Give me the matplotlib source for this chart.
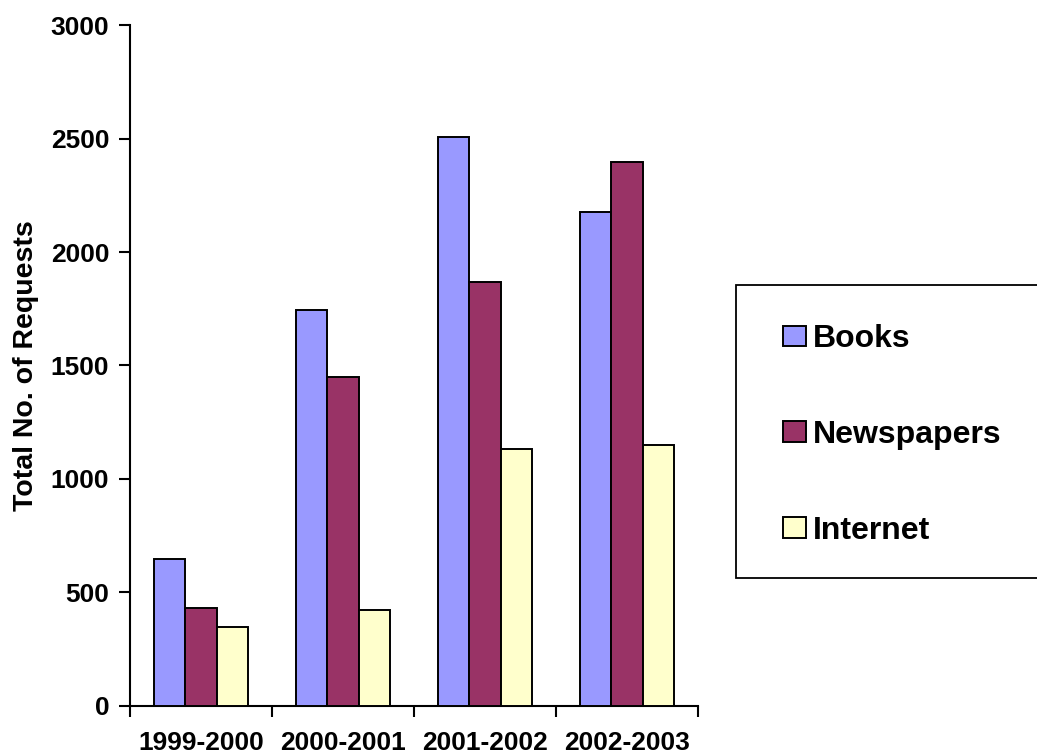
import matplotlib
matplotlib.use("Agg")
import matplotlib.pyplot as plt
from matplotlib.patches import Rectangle
import numpy as np

plt.rcParams['font.family'] = ['Liberation Sans', 'DejaVu Sans']
plt.rcParams['font.weight'] = 'bold'

years = ['1999-2000', '2000-2001', '2001-2002', '2002-2003']
books = [645, 1746, 2508, 2178]
newspapers = [432, 1450, 1866, 2398]
internet = [345, 424, 1133, 1150]

series = [('Books', books, '#9999FF'),
          ('Newspapers', newspapers, '#993366'),
          ('Internet', internet, '#FFFFCC')]

fig = plt.figure(figsize=(10.37, 7.55), dpi=100)
ax = fig.add_axes([0.1254, 0.0653, 0.5477, 0.9012])

x = np.arange(len(years))
w = 0.22
for i, (name, vals, col) in enumerate(series):
  ax.bar(x + (i - 1) * w, vals, width=w, color=col, edgecolor='black',
         linewidth=1.4, label=name, zorder=3)

ax.set_xlim(-0.5, len(years) - 0.5)
ax.set_ylim(0, 3000)
ax.set_yticks(np.arange(0, 3001, 500))

# category labels at centres, tick marks at boundaries
ax.set_xticks(x)
ax.set_xticklabels(years, fontsize=19, fontweight='bold')
ax.set_xticks(np.arange(-0.5, len(years)), minor=True)
ax.tick_params(axis='x', which='major', length=0, pad=18)
ax.tick_params(axis='x', which='minor', length=8, width=1.5, direction='out')
ax.tick_params(axis='y', length=8, width=1.5, direction='out', pad=7, labelsize=19)
for lbl in ax.get_yticklabels():
  lbl.set_fontweight('bold')

for side in ['top', 'right']:
  ax.spines[side].set_visible(False)
for side in ['left', 'bottom']:
  ax.spines[side].set_linewidth(1.5)

ax.set_ylabel('Total No. of Requests', fontsize=20.5, fontweight='bold', labelpad=8)

# legend box running off the right edge
box = Rectangle((736 / 1037, (755 - 578) / 755), 0.4, (578 - 285) / 755,
                transform=fig.transFigure, facecolor='white', edgecolor='black',
                linewidth=1.3, zorder=1)
fig.patches.append(box)

leg = fig.legend(loc='center left', bbox_to_anchor=(767 / 1037, (755 - 435) / 755),
                 frameon=False, prop={'weight': 'bold', 'size': 23},
                 handlelength=0.72, handleheight=0.62, handletextpad=0.22,
                 labelspacing=2.06, borderpad=0)

fig.savefig('out.png', dpi=100)
